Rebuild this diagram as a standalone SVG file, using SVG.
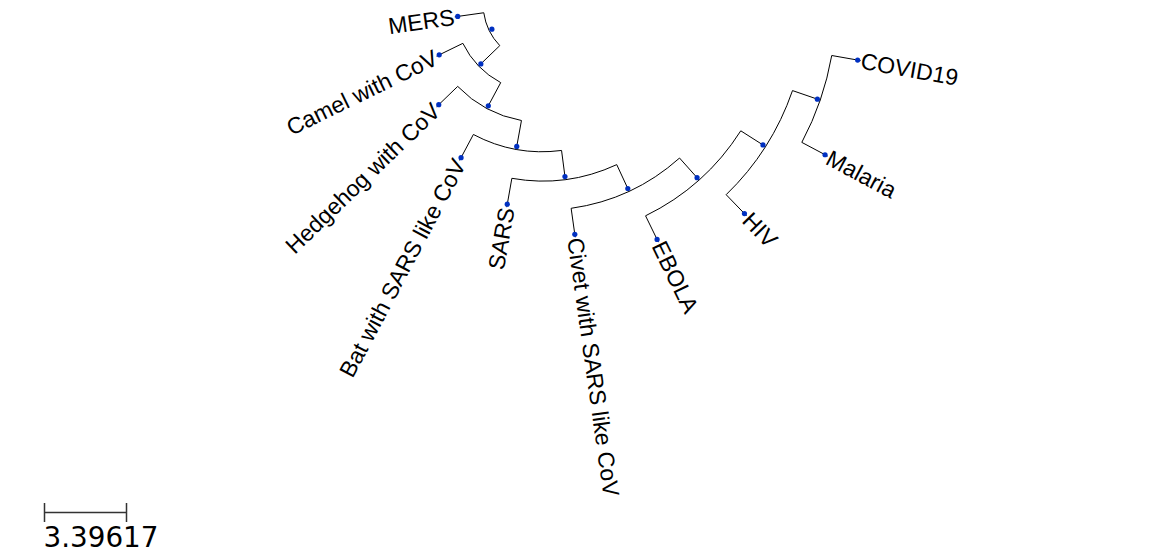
<svg xmlns="http://www.w3.org/2000/svg" width="1161" height="560" viewBox="0 0 1161 560">
<style>
.br{fill:none;stroke:#000;stroke-width:1}
.dot{fill:#0030c1}
.lbl{font-family:"Liberation Sans",Arial,sans-serif;font-size:23px;fill:#000}
.sc{fill:none;stroke:#333;stroke-width:1.5}
.sct{font-family:"DejaVu Sans","Liberation Sans",sans-serif;font-size:27.8px;fill:#000}
</style>
<rect width="1161" height="560" fill="#fff"/>
<g id="connectors">
<path class="br" d="M483.78 12.75A59.3 59.3 0 0 0 499.79 45.64"/>
<path class="br" d="M483.78 12.75L454.76 16.83"/>
<path class="br" d="M499.79 45.64L478.69 65.97"/>
<path class="br" d="M462.87 43.34A88.6 88.6 0 0 0 500.71 82.63"/>
<path class="br" d="M462.87 43.34L436.53 56.18"/>
<path class="br" d="M500.71 82.63L486.89 108.46"/>
<path class="br" d="M457.69 86.40A117.9 117.9 0 0 0 521.46 120.51"/>
<path class="br" d="M457.69 86.40L436.61 106.75"/>
<path class="br" d="M521.46 120.51L516.23 149.34"/>
<path class="br" d="M473.39 134.47A147.2 147.2 0 0 0 561.55 150.46"/>
<path class="br" d="M473.39 134.47L459.64 160.34"/>
<path class="br" d="M561.55 150.46L565.35 179.52"/>
<path class="br" d="M511.85 178.32A176.5 176.5 0 0 0 616.74 164.63"/>
<path class="br" d="M511.85 178.32L506.76 207.17"/>
<path class="br" d="M616.74 164.63L629.07 191.21"/>
<path class="br" d="M571.14 208.30A205.8 205.8 0 0 0 679.54 158.04"/>
<path class="br" d="M571.14 208.30L575.22 237.31"/>
<path class="br" d="M679.54 158.04L699.05 179.90"/>
<path class="br" d="M645.56 215.81A235.1 235.1 0 0 0 740.78 130.82"/>
<path class="br" d="M645.56 215.81L658.41 242.14"/>
<path class="br" d="M740.78 130.82L765.49 146.56"/>
<path class="br" d="M726.17 194.69A264.4 264.4 0 0 0 792.50 90.58"/>
<path class="br" d="M726.17 194.69L746.52 215.77"/>
<path class="br" d="M792.50 90.58L820.20 100.12"/>
<path class="br" d="M801.82 142.38A293.7 293.7 0 0 0 831.74 55.50"/>
<path class="br" d="M801.82 142.38L827.69 156.14"/>
<path class="br" d="M831.74 55.50L860.59 60.59"/>
</g>
<g id="node-root"><circle class="dot" cx="491.88" cy="29.15" r="2.6"/></g>
<g id="node-b"><circle class="dot" cx="480.85" cy="63.89" r="2.6"/></g>
<g id="node-c"><circle class="dot" cx="488.31" cy="105.82" r="2.6"/></g>
<g id="node-d"><circle class="dot" cx="516.76" cy="146.39" r="2.6"/></g>
<g id="node-e"><circle class="dot" cx="564.96" cy="176.54" r="2.6"/></g>
<g id="node-f"><circle class="dot" cx="627.81" cy="188.49" r="2.6"/></g>
<g id="node-g"><circle class="dot" cx="697.05" cy="177.66" r="2.6"/></g>
<g id="node-h"><circle class="dot" cx="762.96" cy="144.95" r="2.6"/></g>
<g id="node-i"><circle class="dot" cx="817.36" cy="99.14" r="2.6"/></g>
<g id="leaf-mers"><circle class="dot" cx="457.73" cy="16.41" r="2.6"/><text class="lbl" text-anchor="end" dy="0.35em" transform="translate(454.27,16.90) rotate(-8)">MERS</text></g>
<g id="leaf-camel"><circle class="dot" cx="439.23" cy="54.87" r="2.6"/><text class="lbl" text-anchor="end" dy="0.35em" transform="translate(436.08,56.40) rotate(-26)">Camel with CoV</text></g>
<g id="leaf-hedgehog"><circle class="dot" cx="438.77" cy="104.67" r="2.6"/><text class="lbl" text-anchor="end" dy="0.35em" transform="translate(436.25,107.10) rotate(-44)">Hedgehog with CoV</text></g>
<g id="leaf-bat"><circle class="dot" cx="461.05" cy="157.69" r="2.6"/><text class="lbl" text-anchor="end" dy="0.35em" transform="translate(459.40,160.78) rotate(-62)">Bat with SARS like CoV</text></g>
<g id="leaf-sars"><circle class="dot" cx="507.28" cy="204.22" r="2.6"/><text class="lbl" text-anchor="end" dy="0.35em" transform="translate(506.68,207.67) rotate(-80)">SARS</text></g>
<g id="leaf-civet"><circle class="dot" cx="574.80" cy="234.34" r="2.6"/><text class="lbl" dy="0.35em" transform="translate(575.29,237.81) rotate(82)">Civet with SARS like CoV</text></g>
<g id="leaf-ebola"><circle class="dot" cx="657.09" cy="239.44" r="2.6"/><text class="lbl" dy="0.35em" transform="translate(658.62,242.59) rotate(64)">EBOLA</text></g>
<g id="leaf-hiv"><circle class="dot" cx="744.44" cy="213.61" r="2.6"/><text class="lbl" dy="0.35em" transform="translate(746.87,216.13) rotate(46)">HIV</text></g>
<g id="leaf-malaria"><circle class="dot" cx="825.04" cy="154.73" r="2.6"/><text class="lbl" dy="0.35em" transform="translate(828.13,156.37) rotate(28)">Malaria</text></g>
<g id="leaf-covid19"><circle class="dot" cx="857.64" cy="60.07" r="2.6"/><text class="lbl" dy="0.35em" transform="translate(861.09,60.68) rotate(10)">COVID19</text></g>
<g id="scale">
<path class="sc" d="M44.5 512.5H126.5M44.5 503V522M126.5 503V522"/>
<text class="sct" x="43.5" y="547">3.39617</text>
</g>
</svg>
